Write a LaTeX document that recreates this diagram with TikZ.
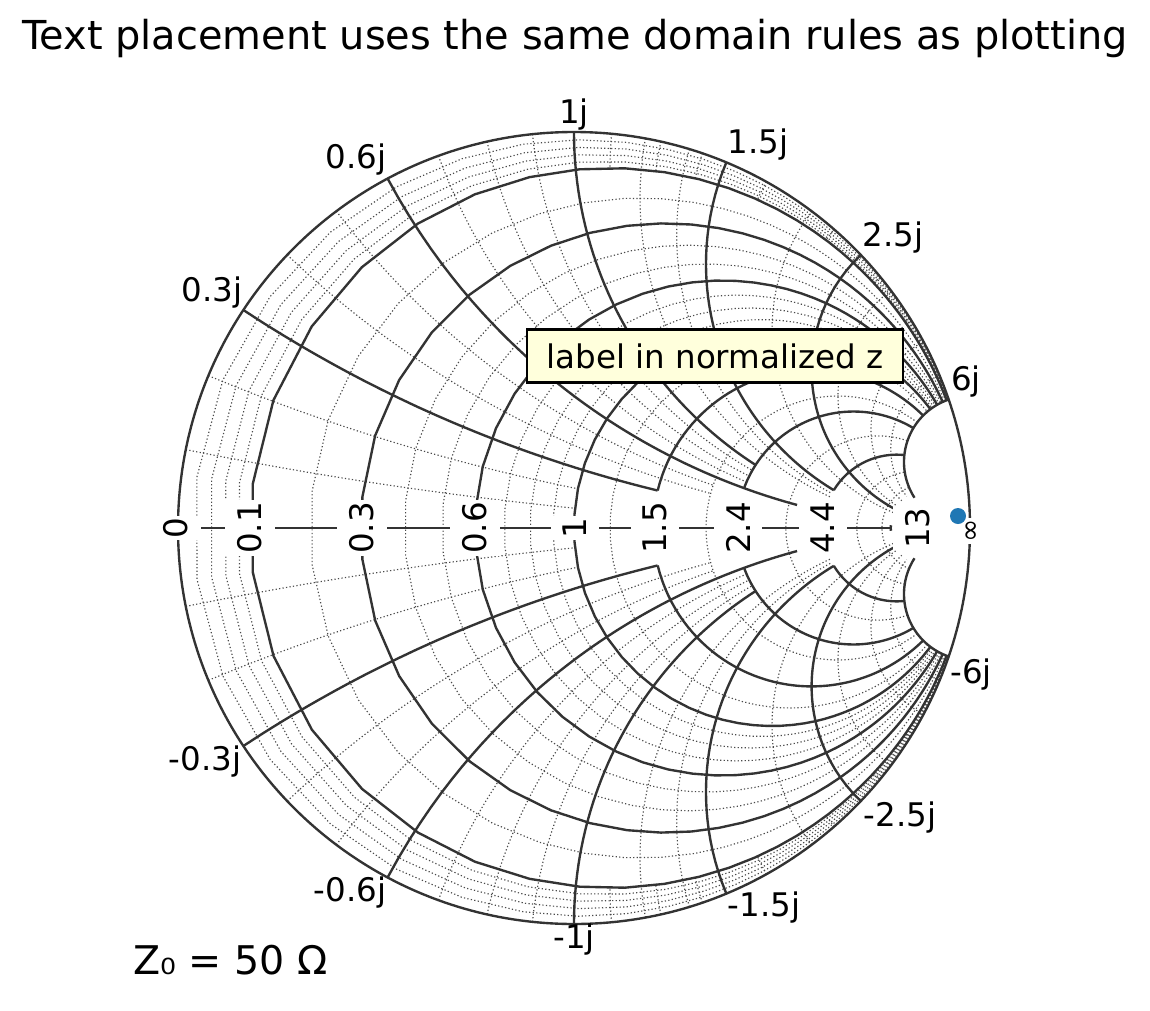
\documentclass[tikz,border=0pt]{standalone}
\usepackage{fontspec}
\setmainfont{DejaVu Sans}
\definecolor{maj}{HTML}{333333}
\definecolor{mnr}{HTML}{4A4A4A}
\definecolor{mk}{HTML}{1F77B4}
\definecolor{boxy}{HTML}{FFFFDC}
\newcommand\rcirc[4][major]{\draw[#1] plot[domain=#3:#4,samples=90,variable=\t] ({(#2*#2+\t*\t-1)/((#2+1)*(#2+1)+\t*\t)},{2*\t/((#2+1)*(#2+1)+\t*\t)});}
\newcommand\xarc[4][major]{\draw[#1] plot[domain=#3:#4,samples=90,variable=\t] ({(\t*\t+#2*#2-1)/((\t+1)*(\t+1)+#2*#2)},{2*#2/((\t+1)*(\t+1)+#2*#2)});
\draw[#1] plot[domain=#3:#4,samples=90,variable=\t] ({(\t*\t+#2*#2-1)/((\t+1)*(\t+1)+#2*#2)},{-2*#2/((\t+1)*(\t+1)+#2*#2)});}
\newcommand\rsym[4][major]{\rcirc[#1]{#2}{#3}{#4}\rcirc[#1]{#2}{-#4}{-#3}}
\begin{document}
\begin{tikzpicture}[x=0.02cm,y=-0.02cm,
  major/.style={draw=maj,line width=1.35pt},
  minor/.style={draw=mnr,line width=0.65pt,dash pattern=on 0.7pt off 1.3pt},
  tk/.style={font=\fontsize{18.5}{21}\selectfont,inner sep=1pt},
  ctk/.style={tk,fill=white,rotate=90,inner xsep=1pt,inner ysep=7pt}]
\useasboundingbox (0,0) rectangle (1150,1011);
\node[font=\fontsize{22.7}{26}\selectfont] (title) at (575,38) {Text placement uses the same domain rules as plotting};
\begin{scope}[shift={(574,528)},xscale=396,yscale=-396]
 \foreach \r in {0.02,0.04,0.06,0.08,0.2,0.4,0.5,0.7,0.8,0.9}{\rcirc[minor]{\r}{-6}{6}}
 \foreach \r in {1.2,2,3.3,6,8}{\rcirc[minor]{\r}{-6}{6}}
 \foreach \x in {0.1,0.2}{\xarc[minor]{\x}{0}{1}}
 \foreach \x in {0.4,0.5}{\xarc[minor]{\x}{0}{2}}
 \foreach \x in {0.7,0.8,0.9}{\xarc[minor]{\x}{0}{2.4}}
 \foreach \x in {1.2,1.35}{\xarc[minor]{\x}{0}{4.4}}
 \foreach \x in {2,3,4,5}{\xarc[minor]{\x}{0}{9}}
 \foreach \x in {1.1,1.25,1.4,1.7,2.2,2.8,3.5,4.5}{\xarc[minor]{\x}{0}{0.1}}
 \rcirc{0.1}{-6}{6}
 \rcirc{0.3}{-6}{6}
 \rcirc{0.6}{-6}{6}
 \rcirc{1}{-6}{6}
 \rsym{1.5}{0.3}{6}
 \rsym{2.4}{0.6}{6}
 \rsym{4.4}{1.5}{6}
 \rcirc{9}{-0.35}{0.35}
 \xarc{0.3}{0}{1.5}
 \xarc{0.6}{0}{3.5}
 \xarc{1}{0}{2.4}
 \xarc{1.5}{0}{4.4}
 \xarc{2.5}{0}{9}
 \xarc{6}{0}{10}
 \draw[major] (-1,0) -- (0.8,0);
 \draw[major] (0,0) circle (1);
\end{scope}
\foreach \lx/\lt in {176/0,250/0.1,362/0.3,475/0.6,575/1,655/1.5,738/2.4,823/4.4,918/13}{
 \node[ctk] (c\lx) at (\lx,528) {\lt};}
\node[ctk,font=\fontsize{16}{18}\selectfont] (inf) at (973,531) {∞};
\node[tk] (l1) at (574,115) {1j};
\node[tk] (l2) at (356,160) {0.6j};
\node[tk] (l3) at (758,145) {1.5j};
\node[tk] (l4) at (212,293) {0.3j};
\node[tk] (l5) at (893,238) {2.5j};
\node[tk] (l6) at (966,382) {6j};
\node[tk] (l7) at (971,675) {-6j};
\node[tk] (l8) at (900,818) {-2.5j};
\node[tk] (l9) at (205,762) {-0.3j};
\node[tk] (l10) at (350,893) {-0.6j};
\node[tk] (l11) at (764,908) {-1.5j};
\node[tk] (l12) at (574,940) {-1j};
\node[draw=black,line width=1.3pt,fill=boxy,font=\fontsize{18.5}{21}\selectfont,minimum width=376*0.02cm,minimum height=53*0.02cm,inner sep=0pt] (box) at (715,356) {label in normalized z};
\fill[mk] (958,516) circle (8);
\node[font=\fontsize{22.5}{26}\selectfont,anchor=west] (z0) at (127,960) {Z₀ = 50 Ω};
\end{tikzpicture}
\end{document}
